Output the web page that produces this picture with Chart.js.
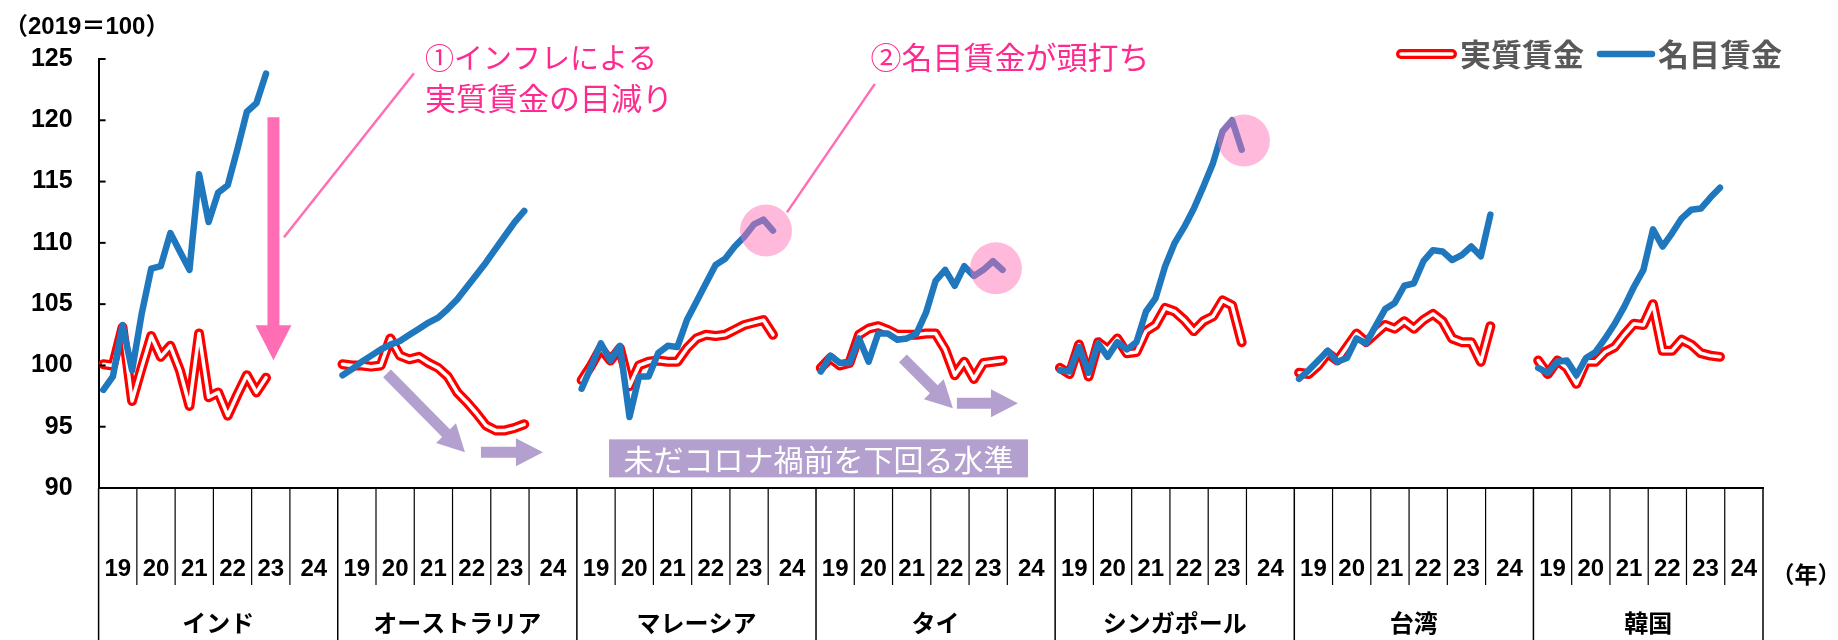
<!DOCTYPE html>
<html lang="ja">
<head>
<meta charset="utf-8">
<title>実質賃金と名目賃金</title>
<script src="https://cdn.jsdelivr.net/npm/chart.js@4/dist/chart.umd.min.js"></script>
<style>
  html, body { margin: 0; padding: 0; background: #fff; }
  #wrap { position: relative; width: 1838px; height: 640px; }
</style>
</head>
<body>
<div id="wrap"><canvas id="chart"></canvas></div>
<script>
// 国・年・目盛り
const countries = ['インド', 'オーストラリア', 'マレーシア', 'タイ', 'シンガポール', '台湾', '韓国'];
const years = ['19', '20', '21', '22', '23', '24'];
const yTicks = [90, 95, 100, 105, 110, 115, 120, 125];

// 実質賃金（2019=100、四半期、19Q1から）
const realIndia = [100.1, 100.0, 103.1, 97.1, 99.8, 102.4, 100.7, 101.6, 99.6, 96.7, 102.6, 97.4, 97.8, 95.9, 97.6, 99.2, 97.8, 99.0];
const realAustralia = [100.1, 100.0, 100.0, 99.9, 100.0, 102.2, 100.8, 100.5, 100.7, 100.2, 99.8, 99.1, 97.8, 97.0, 96.1, 95.1, 94.7, 94.7, 94.9, 95.2];
const realMalaysia = [98.8, 100.0, 101.4, 100.4, 101.4, 98.3, 100.0, 100.3, 100.4, 100.3, 100.3, 101.4, 102.2, 102.5, 102.4, 102.5, 102.9, 103.3, 103.5, 103.7, 102.5];
const realThai = [99.8, 100.6, 100.0, 100.2, 102.5, 103.0, 103.2, 102.9, 102.5, 102.5, 102.5, 102.6, 102.6, 101.3, 99.2, 100.3, 98.9, 100.2, 100.3, 100.4];
const realSingapore = [99.8, 99.3, 101.7, 99.1, 101.9, 101.3, 102.2, 101.0, 101.1, 102.8, 103.3, 104.7, 104.4, 103.7, 102.8, 103.6, 104.0, 105.3, 104.9, 101.9];
const realTaiwan = [99.4, 99.3, 100.0, 101.0, 100.4, 101.5, 102.6, 101.9, 102.6, 103.3, 103.0, 103.6, 103.0, 103.7, 104.2, 103.6, 102.2, 101.9, 101.9, 100.3, 103.2];
const realKorea = [100.4, 99.3, 100.4, 99.8, 98.5, 100.3, 100.3, 101.1, 101.5, 102.5, 103.4, 103.3, 105.0, 101.2, 101.2, 102.1, 101.7, 101.0, 100.8, 100.7];

// 名目賃金
const nominalIndia = [98.0, 99.1, 103.3, 99.6, 104.2, 107.9, 108.1, 110.8, 109.3, 107.8, 115.6, 111.7, 114.1, 114.7, 117.6, 120.7, 121.4, 123.8];
const nominalAustralia = [99.2, 99.7, 100.3, 100.8, 101.3, 101.7, 102.0, 102.5, 103.0, 103.5, 103.9, 104.6, 105.4, 106.4, 107.4, 108.4, 109.5, 110.6, 111.7, 112.6];
const nominalMalaysia = [98.1, 99.9, 101.8, 100.4, 101.6, 95.8, 99.1, 99.1, 101.0, 101.6, 101.5, 103.7, 105.2, 106.7, 108.2, 108.7, 109.7, 110.5, 111.5, 111.9, 111.0];
const nominalThai = [99.5, 100.8, 100.2, 100.2, 102.2, 100.3, 102.6, 102.6, 102.1, 102.2, 102.6, 104.3, 106.9, 107.8, 106.5, 108.1, 107.3, 107.8, 108.5, 107.8];
const nominalSingapore = [99.6, 99.5, 101.5, 99.4, 101.8, 100.7, 101.9, 101.3, 101.9, 104.4, 105.5, 108.1, 110.0, 111.3, 112.8, 114.6, 116.5, 119.1, 120.0, 117.6];
const nominalTaiwan = [98.9, 99.6, 100.4, 101.2, 100.3, 100.6, 102.2, 101.8, 103.2, 104.6, 105.1, 106.5, 106.7, 108.5, 109.4, 109.3, 108.6, 109.0, 109.7, 108.9, 112.3];
const nominalKorea = [99.8, 99.4, 100.3, 100.4, 99.2, 100.6, 101.1, 102.2, 103.4, 104.8, 106.4, 107.8, 111.1, 109.7, 110.8, 112.0, 112.7, 112.8, 113.7, 114.5];

const realSeries = [realIndia, realAustralia, realMalaysia, realThai, realSingapore, realTaiwan, realKorea];
const nominalSeries = [nominalIndia, nominalAustralia, nominalMalaysia, nominalThai, nominalSingapore, nominalTaiwan, nominalKorea];

// 1国 = 6年×4四半期 + 区切り1枠（最後の国は区切りなし）
const SLOTS = 25;
const X_MAX = SLOTS * (countries.length - 1) + 24;

const RED = '#FF0000';
const BLUE = '#1F77BE';
const PINK = '#FF2A8F';
const PINK_ARROW = '#FF6EB4';
const LAVENDER = '#B3A0CE';
const JP = "'Noto Sans CJK JP', sans-serif";
const NUM = "'Liberation Sans Narrow', 'Liberation Sans', 'Noto Sans CJK JP', sans-serif";

function toPoints(series) {
  const pts = [];
  series.forEach((vals, c) => {
    vals.forEach((v, i) => pts.push({ x: c * SLOTS + i + 0.5, y: v }));
    pts.push({ x: c * SLOTS + vals.length + 0.5, y: null });
  });
  return pts;
}

// 注記（x: 四半期枠、y: 指数）
const notes = {
  pinkArrow: { x: 18.28, y1: 120.24, y2: 100.42 },
  leaders: [
    [19.38, 110.45, 32.97, 123.83],
    [81.15, 122.97, 71.96, 112.49]
  ],
  texts: [
    { x: 34.12, y: 125.05, text: '①インフレによる' },
    { x: 34.12, y: 121.79, text: '実質賃金の目減り' },
    { x: 80.7, y: 125.13, text: '②名目賃金が頭打ち' }
  ],
  circles: [[69.77, 111.0], [93.81, 107.92], [119.74, 118.35]],
  purpleArrows: [
    [30.15, 99.36, 38.30, 92.91],
    [39.97, 92.91, 46.45, 92.91],
    [84.08, 100.58, 89.31, 96.5],
    [89.73, 96.92, 96.11, 96.92]
  ],
  box: { x1: 53.36, y1: 93.97, x2: 97.16, y2: 90.87, text: '未だコロナ禍前を下回る水準' }
};

function arrow(ctx, x1, y1, x2, y2, shaft, headW, headL, color) {
  const ang = Math.atan2(y2 - y1, x2 - x1);
  const len = Math.hypot(x2 - x1, y2 - y1);
  ctx.save();
  ctx.translate(x1, y1);
  ctx.rotate(ang);
  ctx.fillStyle = color;
  ctx.beginPath();
  ctx.moveTo(0, -shaft / 2);
  ctx.lineTo(len - headL, -shaft / 2);
  ctx.lineTo(len - headL, -headW / 2);
  ctx.lineTo(len, 0);
  ctx.lineTo(len - headL, headW / 2);
  ctx.lineTo(len - headL, shaft / 2);
  ctx.lineTo(0, shaft / 2);
  ctx.closePath();
  ctx.fill();
  ctx.restore();
}

const decor = {
  id: 'decor',
  afterDraw(chart) {
    const { ctx, chartArea: a, scales: { x, y } } = chart;
    const X = v => x.getPixelForValue(v);
    const Y = v => y.getPixelForValue(v);
    const H = chart.height;
    ctx.save();

    // y軸の内向き目盛り
    ctx.strokeStyle = '#000';
    ctx.lineWidth = 2;
    yTicks.forEach(v => {
      ctx.beginPath();
      ctx.moveTo(a.left, Y(v));
      ctx.lineTo(a.left + 7, Y(v));
      ctx.stroke();
    });

    // x軸の表（年・国）
    ctx.fillStyle = '#000';
    ctx.textAlign = 'center';
    ctx.textBaseline = 'middle';
    countries.forEach((name, c) => {
      const start = c * SLOTS;
      const end = c < countries.length - 1 ? start + SLOTS : X_MAX;
      ctx.lineWidth = 1.5;
      ctx.beginPath();
      ctx.moveTo(X(start), a.bottom);
      ctx.lineTo(X(start), H);
      ctx.stroke();
      ctx.lineWidth = 1.2;
      for (let k = 1; k < years.length; k++) {
        ctx.beginPath();
        ctx.moveTo(X(start + 4 * k), a.bottom);
        ctx.lineTo(X(start + 4 * k), 585);
        ctx.stroke();
      }
      ctx.font = 'bold 24px ' + NUM;
      years.forEach((yr, k) => {
        const s = start + 4 * k;
        const e = k < years.length - 1 ? s + 4 : end;
        ctx.fillText(yr, (X(s) + X(e)) / 2, 569);
      });
      ctx.font = 'bold 24px ' + JP;
      ctx.fillText(name, (X(start) + X(end)) / 2, 623);
    });
    ctx.lineWidth = 1.5;
    ctx.beginPath();
    ctx.moveTo(X(X_MAX), a.bottom);
    ctx.lineTo(X(X_MAX), H);
    ctx.stroke();

    ctx.font = 'bold 23px ' + NUM;
    ctx.fillText('（年）', 1806, 577);
    ctx.textAlign = 'left';
    ctx.font = 'bold 24px ' + NUM;
    ctx.fillText('（2019＝100）', 4, 27);

    // 強調の円
    ctx.fillStyle = 'rgba(255, 110, 180, 0.48)';
    notes.circles.forEach(([cx, cy]) => {
      ctx.beginPath();
      ctx.arc(X(cx), Y(cy), 26, 0, Math.PI * 2);
      ctx.fill();
    });

    // 引き出し線
    ctx.strokeStyle = PINK_ARROW;
    ctx.lineWidth = 2.5;
    notes.leaders.forEach(([x1, y1, x2, y2]) => {
      ctx.beginPath();
      ctx.moveTo(X(x1), Y(y1));
      ctx.lineTo(X(x2), Y(y2));
      ctx.stroke();
    });

    // ピンクの下向き矢印
    const pa = notes.pinkArrow;
    arrow(ctx, X(pa.x), Y(pa.y1), X(pa.x), Y(pa.y2), 12, 36, 35, PINK_ARROW);

    // 注記テキスト
    ctx.fillStyle = PINK;
    ctx.textAlign = 'left';
    notes.texts.forEach((t, i) => {
      ctx.font = (i === 0 ? '29px ' : '31px ') + JP;
      ctx.fillText(t.text, X(t.x), Y(t.y));
    });

    // 紫の矢印
    notes.purpleArrows.forEach(([x1, y1, x2, y2]) => {
      arrow(ctx, X(x1), Y(y1), X(x2), Y(y2), 11, 28, 27, LAVENDER);
    });

    // 紫の帯
    const b = notes.box;
    ctx.fillStyle = LAVENDER;
    ctx.fillRect(X(b.x1), Y(b.y1), X(b.x2) - X(b.x1), Y(b.y2) - Y(b.y1));
    ctx.fillStyle = '#fff';
    ctx.font = '30px ' + JP;
    ctx.textAlign = 'center';
    ctx.fillText(b.text, (X(b.x1) + X(b.x2)) / 2, (Y(b.y1) + Y(b.y2)) / 2 + 1);

    // 凡例
    ctx.lineCap = 'round';
    ctx.strokeStyle = RED;
    ctx.lineWidth = 10;
    ctx.beginPath(); ctx.moveTo(1401, 54); ctx.lineTo(1452, 54); ctx.stroke();
    ctx.strokeStyle = '#fff';
    ctx.lineWidth = 3.5;
    ctx.beginPath(); ctx.moveTo(1401, 54); ctx.lineTo(1452, 54); ctx.stroke();
    ctx.strokeStyle = BLUE;
    ctx.lineWidth = 6.5;
    ctx.beginPath(); ctx.moveTo(1600, 54); ctx.lineTo(1652, 54); ctx.stroke();
    ctx.fillStyle = '#595959';
    ctx.font = 'bold 31px ' + JP;
    ctx.textAlign = 'left';
    ctx.fillText('実質賃金', 1460, 54);
    ctx.fillText('名目賃金', 1658, 54);

    ctx.restore();
  }
};

const realPoints = toPoints(realSeries);
const nominalPoints = toPoints(nominalSeries);
const lineBase = { pointRadius: 0, pointHoverRadius: 0, borderJoinStyle: 'round', borderCapStyle: 'round', spanGaps: false, tension: 0 };

new Chart(document.getElementById('chart'), {
  type: 'line',
  data: {
    datasets: [
      { ...lineBase, label: '名目賃金', data: nominalPoints, borderColor: BLUE, borderWidth: 6.5, order: 0 },
      { ...lineBase, label: '実質賃金（内側）', data: realPoints, borderColor: '#FFFFFF', borderWidth: 3.5, order: 1 },
      { ...lineBase, label: '実質賃金', data: realPoints, borderColor: RED, borderWidth: 10, order: 2 }
    ]
  },
  options: {
    responsive: true,
    maintainAspectRatio: false,
    animation: false,
    events: [],
    layout: { padding: { top: 59, right: 75, bottom: 0, left: 0 } },
    plugins: { legend: { display: false }, tooltip: { enabled: false } },
    scales: {
      x: {
        type: 'linear',
        min: 0,
        max: X_MAX,
        grid: { display: false },
        ticks: { display: false },
        border: { display: true, color: '#000', width: 2 },
        afterFit: s => { s.height = 152; }
      },
      y: {
        min: 90,
        max: 125,
        afterBuildTicks: s => { s.ticks = yTicks.map(v => ({ value: v })); },
        grid: { display: false, drawTicks: false },
        ticks: { padding: 26, color: '#000', font: { family: NUM, size: 25, weight: 'bold' } },
        border: { display: true, color: '#000', width: 2 },
        afterFit: s => { s.width = 98.6; }
      }
    }
  },
  plugins: [decor]
});
</script>
</body>
</html>
